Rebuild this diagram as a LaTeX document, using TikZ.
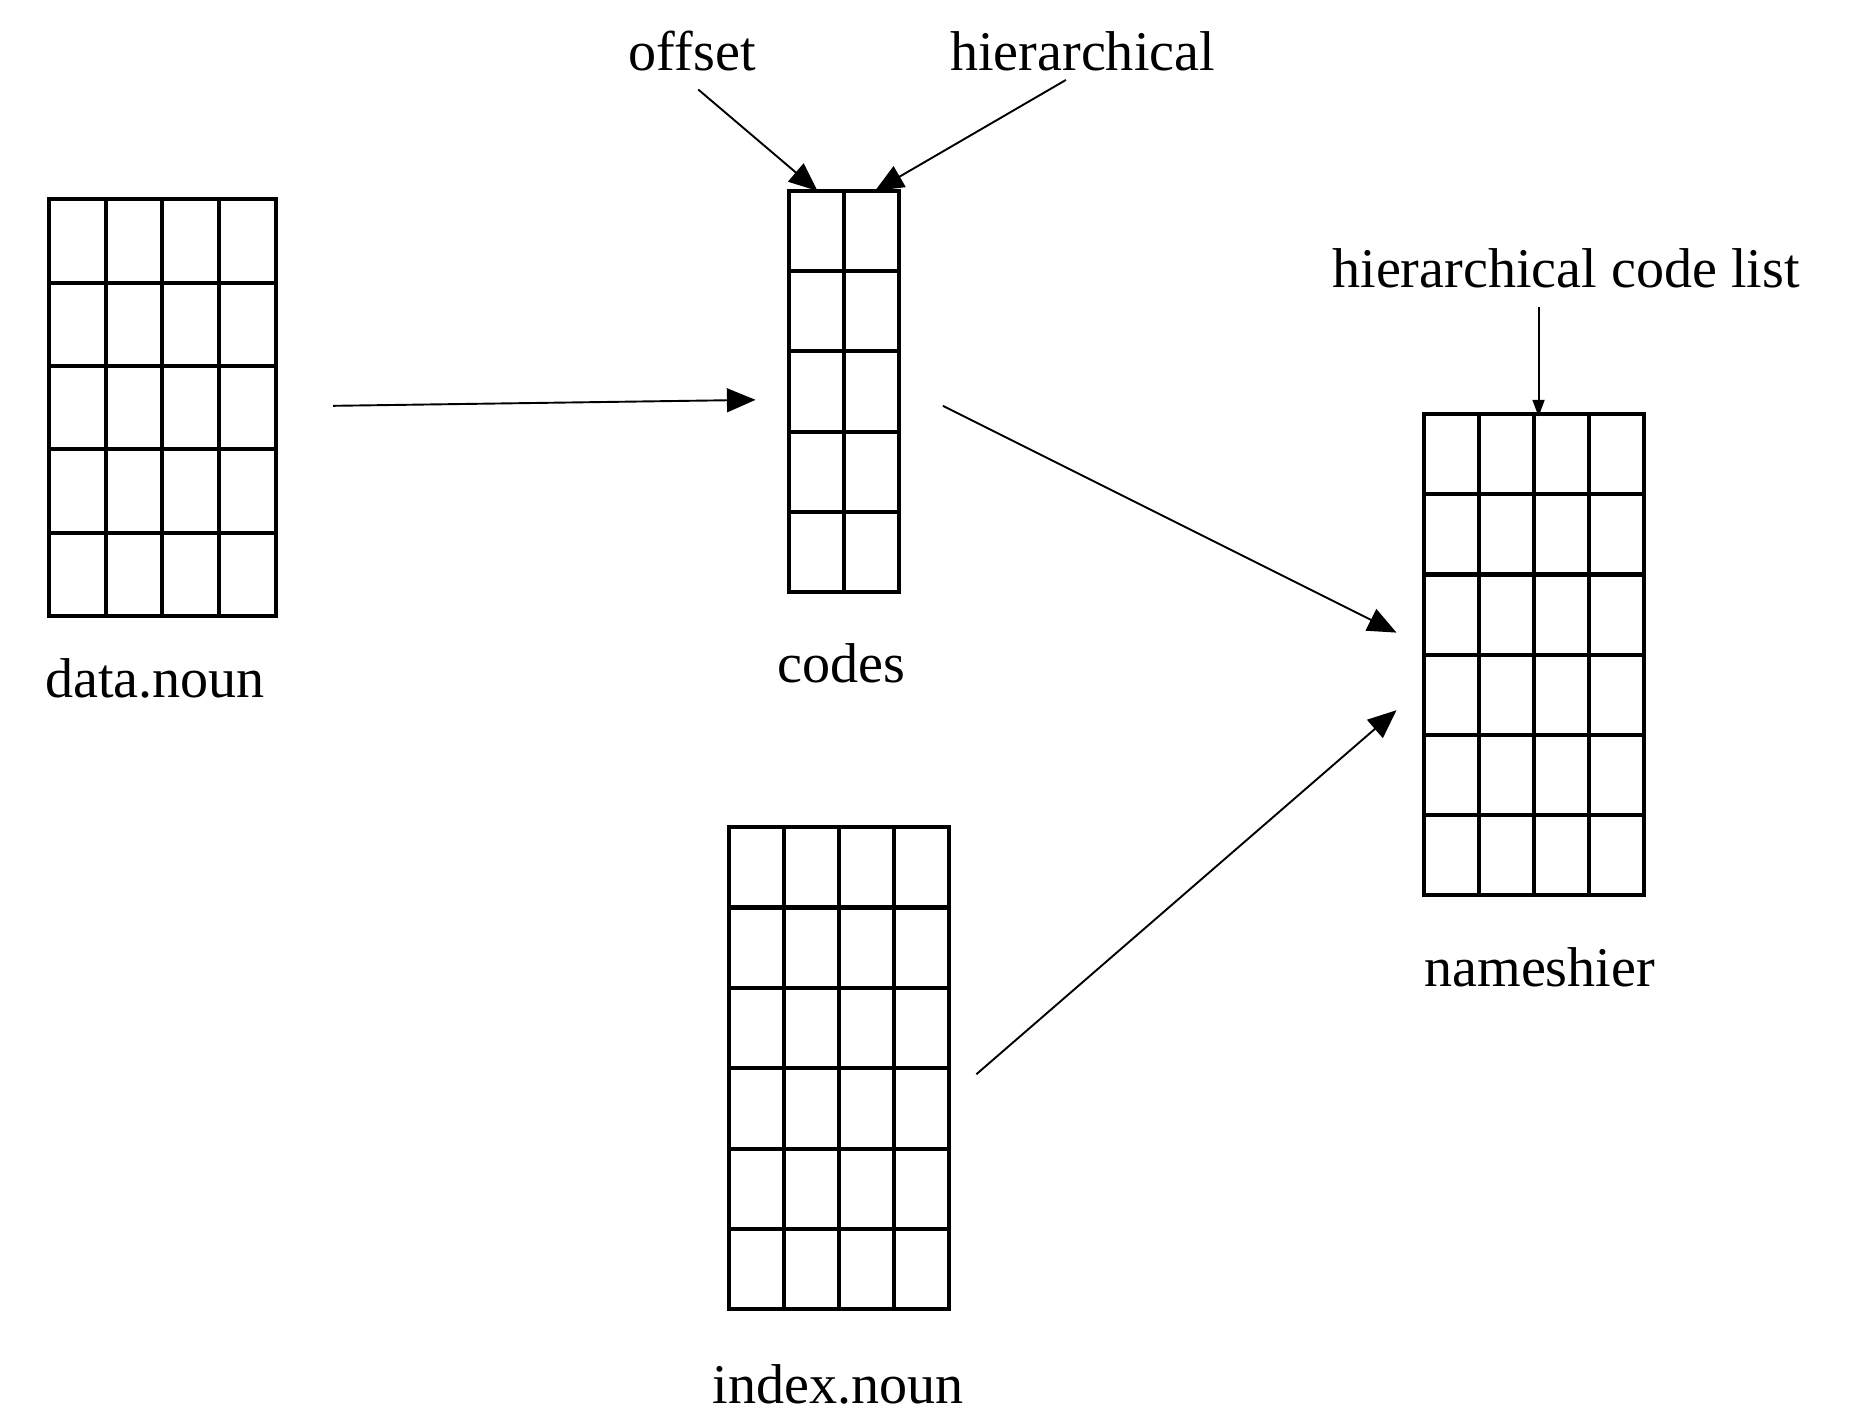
\documentclass[tikz,border=0pt]{standalone}
\usepackage{fontspec}
\setmainfont{Liberation Serif}
\usetikzlibrary{arrows.meta}
\begin{document}
\begin{tikzpicture}[x=1pt,y=-1pt,
  grid/.style={line width=3.5pt},
  lbl/.style={font=\fontsize{47}{50}\selectfont, inner sep=0pt},
  arr/.style={line width=1.6pt,-{Triangle[length=24pt,width=20pt]}}]
\useasboundingbox (0,0) rectangle (1560,1192);
\newcommand{\mygrid}[7]{% name x1 y1 x2 y2 cols rows
  \coordinate (#1-nw) at (#2,#3); \coordinate (#1-se) at (#4,#5);
  \pgfmathsetmacro{\dx}{(#4-#2)/#6}\pgfmathsetmacro{\dy}{(#5-#3)/#7}
  \foreach \i in {1,...,\numexpr#6-1\relax} \draw[grid] (#2+\i*\dx,#3) -- (#2+\i*\dx,#5);
  \foreach \j in {1,...,\numexpr#7-1\relax} \draw[grid] (#2,#3+\j*\dy) -- (#4,#3+\j*\dy);
  \draw[grid] (#2,#3) rectangle (#4,#5);}
\mygrid{data}{41}{167}{231}{516}{4}{5}
\mygrid{codes}{661}{160}{753}{496}{2}{5}
\mygrid{names}{1193}{347}{1377}{750}{4}{6}
\mygrid{index}{611}{693}{795}{1097}{4}{6}
\node[lbl] (ldata) at (130,568) {data.noun};
\node[lbl] (lcodes) at (705,556) {codes};
\node[lbl] (lnames) at (1290,810) {nameshier};
\node[lbl] (lindex) at (702,1160) {index.noun};
\node[lbl] (loff) at (580,43) {offset};
\node[lbl] (lhier) at (907,43) {hierarchical};
\node[lbl] (llist) at (1312,225) {hierarchical code list};
\coordinate (a1) at (279,340); \coordinate (b1) at (633,335);
\coordinate (a2) at (790,340); \coordinate (b2) at (1170,530);
\coordinate (a3) at (818,900); \coordinate (b3) at (1170,595);
\coordinate (a4) at (585,75); \coordinate (b4) at (685,160);
\coordinate (a5) at (893,67); \coordinate (b5) at (733,160);
\coordinate (a6) at (1289,257); \coordinate (b6) at (1289,349);
\draw[arr] (a1) -- (b1);
\draw[arr] (a2) -- (b2);
\draw[arr] (a3) -- (b3);
\draw[arr] (a4) -- (b4);
\draw[arr] (a5) -- (b5);
\draw[line width=1.6pt,-{Triangle[length=14pt,width=10pt]}] (a6) -- (b6);
\end{tikzpicture}
\end{document}
